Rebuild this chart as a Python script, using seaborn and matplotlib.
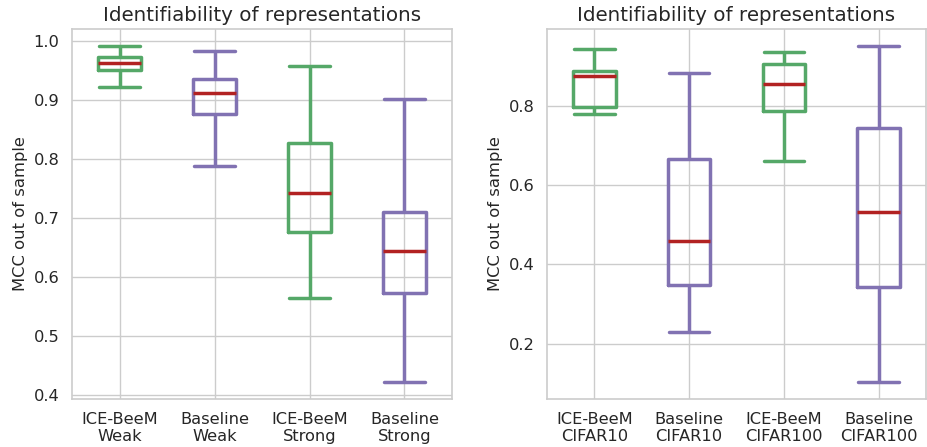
import matplotlib
matplotlib.use("Agg")
import matplotlib.pyplot as plt
import seaborn as sns
import pandas as pd

# Five-number summaries: [lower whisker, Q1, median, Q3, upper whisker]
left_labels = ["ICE-BeeM\nWeak", "Baseline\nWeak", "ICE-BeeM\nStrong", "Baseline\nStrong"]
left_icebeem_weak = [0.922, 0.951, 0.963, 0.9735, 0.992]
left_baseline_weak = [0.788, 0.876, 0.912, 0.936, 0.983]
left_icebeem_strong = [0.565, 0.676, 0.742, 0.828, 0.958]
left_baseline_strong = [0.4225, 0.574, 0.645, 0.710, 0.9025]

right_labels = ["ICE-BeeM\nCIFAR10", "Baseline\nCIFAR10", "ICE-BeeM\nCIFAR100", "Baseline\nCIFAR100"]
right_icebeem_c10 = [0.780, 0.798, 0.875, 0.888, 0.944]
right_baseline_c10 = [0.230, 0.348, 0.458, 0.665, 0.884]
right_icebeem_c100 = [0.660, 0.788, 0.856, 0.906, 0.937]
right_baseline_c100 = [0.1025, 0.343, 0.532, 0.745, 0.952]

GREEN = "#55A868"
PURPLE = "#8172B2"
RED = "#B22222"

title = "Identifiability of representations"
ylabel = "MCC out of sample"

sns.set_theme(style="whitegrid")
plt.rcParams["font.family"] = ["DejaVu Sans"]


def long_df(labels, series):
    rows = []
    for lab, vals in zip(labels, series):
        for v in vals:
            rows.append({"cat": lab, "val": v})
    return pd.DataFrame(rows)


fig = plt.figure(figsize=(9.27, 4.47), dpi=100)
W, H = 927, 447
ax1 = fig.add_axes([72 / W, 1 - 399 / H, 380 / W, 370 / H])
ax2 = fig.add_axes([547 / W, 1 - 399 / H, 379 / W, 370 / H])

panels = [
    (ax1, left_labels, [left_icebeem_weak, left_baseline_weak, left_icebeem_strong, left_baseline_strong]),
    (ax2, right_labels, [right_icebeem_c10, right_baseline_c10, right_icebeem_c100, right_baseline_c100]),
]

for ax, labels, series in panels:
    df = long_df(labels, series)
    palette = {labels[0]: GREEN, labels[1]: PURPLE, labels[2]: GREEN, labels[3]: PURPLE}
    sns.boxplot(
        data=df, x="cat", y="val", hue="cat", palette=palette, legend=False,
        fill=False, width=0.45, whis=(0, 100), linewidth=2.5,
        medianprops=dict(color=RED, linewidth=2.5),
        capwidths=0.43, ax=ax, order=labels,
    )
    ax.set_xlim(-0.5, 3.5)
    ax.xaxis.grid(True)
    ax.yaxis.grid(True)
    ax.set_axisbelow(True)
    ax.set_xlabel("")
    ax.set_ylabel(ylabel, fontsize=11.8)
    ax.set_title(title, fontsize=14.3, pad=6)
    ax.tick_params(axis="both", labelsize=11.7, colors="#262626", pad=3)
    for s in ax.spines.values():
        s.set_color("#cccccc")
        s.set_linewidth(1.2)

ax1.set_yticks([0.4, 0.5, 0.6, 0.7, 0.8, 0.9, 1.0])
ax2.set_yticks([0.2, 0.4, 0.6, 0.8])

fig.savefig("out.png", dpi=100)
